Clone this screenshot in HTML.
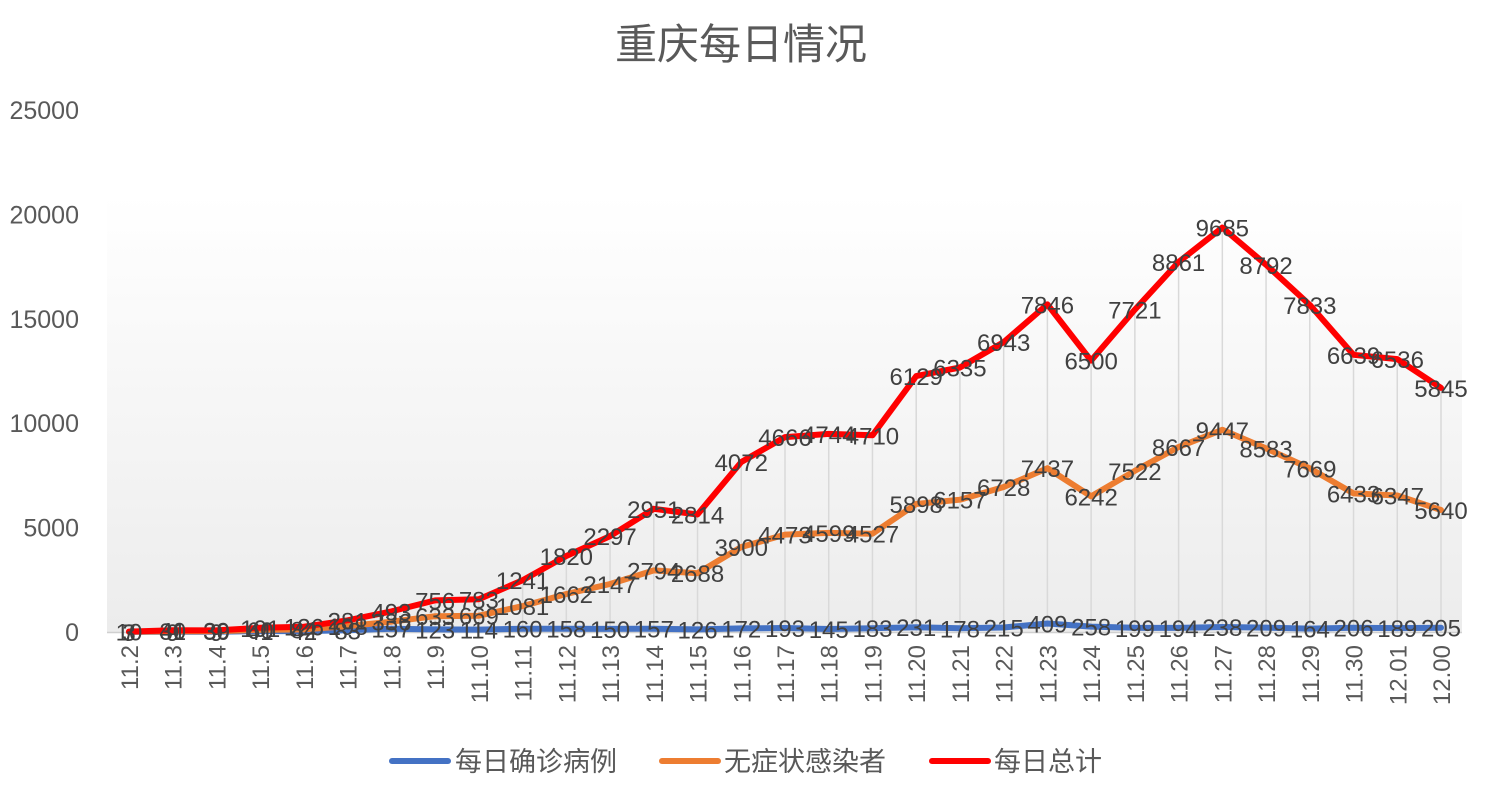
<!DOCTYPE html>
<html><head><meta charset="utf-8">
<style>
html,body{margin:0;padding:0;background:#fff;}
svg{display:block;font-family:"Liberation Sans","Noto Sans CJK SC",sans-serif;}
</style></head>
<body>
<svg id="c" width="1492" height="800" xmlns="http://www.w3.org/2000/svg">
<defs>
<linearGradient id="g" x1="0" y1="0" x2="0" y2="1">
<stop offset="0" stop-color="#ffffff"/>
<stop offset="1" stop-color="#ececec"/>
</linearGradient>
</defs>
<rect x="107" y="195" width="1355" height="437" fill="url(#g)"/>
<text x="741" y="59" text-anchor="middle" font-size="42" fill="#595959">重庆每日情况</text>
<g id="main"></g>
<line x1="392" y1="761" x2="448" y2="761" stroke="#4472C4" stroke-width="6" stroke-linecap="round"/>
<text x="455" y="771" font-size="27" fill="#595959">每日确诊病例</text>
<line x1="662" y1="761" x2="718" y2="761" stroke="#ED7D31" stroke-width="6" stroke-linecap="round"/>
<text x="724" y="771" font-size="27" fill="#595959">无症状感染者</text>
<line x1="932" y1="761" x2="988" y2="761" stroke="#FF0000" stroke-width="6" stroke-linecap="round"/>
<text x="994" y="771" font-size="27" fill="#595959">每日总计</text>
</svg>
<script>
var cats=["11.2","11.3","11.4","11.5","11.6","11.7","11.8","11.9","11.10","11.11","11.12","11.13","11.14","11.15","11.16","11.17","11.18","11.19","11.20","11.21","11.22","11.23","11.24","11.25","11.26","11.27","11.28","11.29","11.30","12.01","12.00"];
var b=[7,9,9,41,42,83,157,123,114,160,158,150,157,126,172,193,145,183,231,178,215,409,258,199,194,238,209,164,206,189,205];
var o=[3,31,30,60,84,198,336,633,669,1081,1662,2147,2794,2688,3900,4473,4599,4527,5898,6157,6728,7437,6242,7522,8667,9447,8583,7669,6433,6347,5640];
var t=b.map(function(v,i){return v+o[i];});
function X(i){return 129+i*(1441-129)/30;}
function Y(v){return 632-v*(632-110)/25000;}
var s="";
for(var k=0;k<=5;k++){var v=k*5000;s+='<text x="79" y="'+(Y(v)+9)+'" text-anchor="end" font-size="25" fill="#595959">'+v+'</text>';}
var sb=[],so=[],st=[];
for(var i=0;i<31;i++){sb.push(b[i]);so.push(b[i]+o[i]);st.push(b[i]+o[i]+t[i]);}
for(var i=0;i<31;i++){s+='<line x1="'+X(i)+'" y1="632" x2="'+X(i)+'" y2="'+Y(st[i])+'" stroke="#d9d9d9" stroke-width="1.5"/>';}
s+='<line x1="107" y1="632.5" x2="1462" y2="632.5" stroke="#d0d0d0" stroke-width="1.5"/>';
function pl(a,c){var p=a.map(function(v,i){return X(i).toFixed(1)+","+Y(v).toFixed(1);}).join(" ");return '<polyline points="'+p+'" fill="none" stroke="'+c+'" stroke-width="6" stroke-linejoin="round" stroke-linecap="round"/>';}
s+=pl(sb,"#4472C4")+pl(so,"#ED7D31")+pl(st,"#FF0000");
function lab(a,vals){var r="";for(var i=0;i<31;i++){r+='<text x="'+X(i)+'" y="'+(Y(a[i])+9)+'" text-anchor="middle" font-size="24" fill="#404040">'+vals[i]+'</text>';}return r;}
s+=lab(sb,b)+lab(so,o)+lab(st,t);
for(var i=0;i<31;i++){s+='<text transform="translate('+(X(i)+9)+',645) rotate(-90)" text-anchor="end" font-size="24" fill="#595959">'+cats[i]+'</text>';}
document.getElementById("main").innerHTML=s;
</script>
</body></html>
